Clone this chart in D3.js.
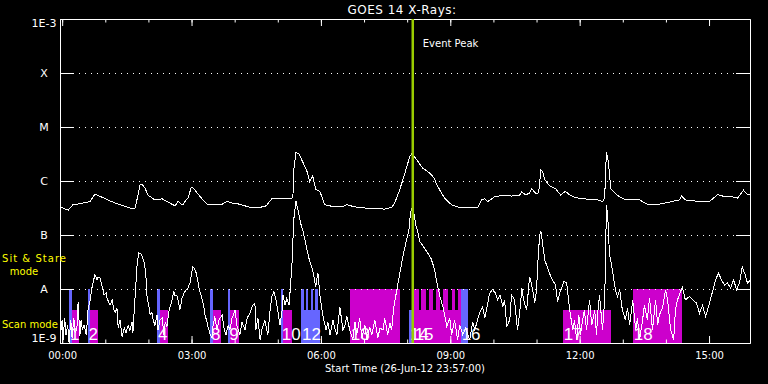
<!DOCTYPE html>
<html>
<head>
<meta charset="utf-8">
<script src="https://cdnjs.cloudflare.com/ajax/libs/d3/7.8.5/d3.min.js"></script>
<style>
    body { margin: 0; background: #000; }
    svg { display: block; }
    text { font-family: "DejaVu Sans", sans-serif; fill: #fff; }
</style>
</head>
<body>
<div id="chart"></div>
<script>
// hours after 00:00 (27-Jun-12), plot starts 23:57 the day before
const hourDomain = [-0.05, 15.95];
const majorHours = [0, 3, 6, 9, 12, 15];
const minorHours = d3.range(0, 16);
const decades = [-3, -4, -5, -6, -7, -8, -9];
const decadeLabels = ["1E-3", "X", "M", "C", "B", "A", "1E-9"];
const eventPeakHour = 8.13;

// log10 flux (W/m^2), long channel 1-8 A
const longChannel = [
    [-0.02,-6.49],[0.14,-6.54],[0.25,-6.44],[0.42,-6.42],[0.65,-6.38],[0.76,-6.24],[0.95,-6.31],[1.11,-6.37],
    [1.34,-6.44],[1.62,-6.51],[1.69,-6.50],[1.76,-6.26],[1.81,-6.06],[1.85,-6.06],[1.92,-6.13],[1.99,-6.26],
    [2.15,-6.35],[2.32,-6.33],[2.50,-6.41],[2.62,-6.46],[2.69,-6.37],[2.76,-6.43],[2.80,-6.44],[2.87,-6.35],
    [2.92,-6.31],[2.99,-6.13],[3.03,-6.12],[3.10,-6.19],[3.20,-6.29],[3.36,-6.43],[3.54,-6.44],[3.71,-6.43],
    [3.82,-6.38],[3.96,-6.41],[4.12,-6.43],[4.36,-6.49],[4.54,-6.50],[4.63,-6.48],[4.73,-6.46],[4.86,-6.33],
    [5.05,-6.33],[5.28,-6.33],[5.35,-6.31],[5.37,-5.80],[5.42,-5.47],[5.49,-5.50],[5.58,-5.65],[5.68,-5.83],
    [5.74,-6.01],[5.81,-5.91],[5.88,-6.15],[5.98,-6.20],[6.09,-6.44],[6.32,-6.48],[6.51,-6.47],[6.60,-6.44],
    [6.79,-6.48],[7.13,-6.51],[7.48,-6.52],[7.64,-6.49],[7.71,-6.41],[7.81,-6.20],[7.90,-5.98],[7.99,-5.74],
    [8.06,-5.55],[8.11,-5.49],[8.18,-5.56],[8.25,-5.64],[8.36,-5.76],[8.52,-5.85],[8.62,-5.94],[8.69,-6.07],
    [8.78,-6.20],[8.87,-6.32],[9.03,-6.44],[9.22,-6.49],[9.45,-6.50],[9.64,-6.49],[9.73,-6.35],[9.80,-6.33],
    [9.87,-6.38],[10.03,-6.29],[10.26,-6.26],[10.42,-6.28],[10.61,-6.26],[10.66,-6.20],[10.75,-6.26],[10.84,-6.22],
    [10.89,-6.14],[10.98,-6.23],[11.05,-6.22],[11.10,-5.80],[11.14,-5.83],[11.19,-5.97],[11.30,-6.09],[11.44,-6.14],
    [11.56,-6.26],[11.67,-6.19],[11.77,-6.26],[11.88,-6.30],[12.00,-6.32],[12.23,-6.34],[12.42,-6.35],[12.53,-6.38],
    [12.58,-6.31],[12.62,-5.46],[12.67,-5.67],[12.72,-6.14],[12.86,-6.26],[13.04,-6.34],[13.20,-6.34],[13.39,-6.35],
    [13.57,-6.43],[13.85,-6.43],[14.08,-6.39],[14.32,-6.35],[14.36,-6.28],[14.45,-6.35],[14.78,-6.38],[15.01,-6.38],
    [15.20,-6.25],[15.36,-6.29],[15.54,-6.29],[15.66,-6.32],[15.80,-6.17],[15.89,-6.25],[15.96,-6.24]
];

// log10 flux, short channel 0.5-4 A (floor at 1E-9)
const shortChannel = [
    [-0.02,-8.76],[0.00,-8.57],[0.02,-8.94],[0.06,-8.54],[0.09,-8.85],[0.13,-8.67],[0.16,-9.00],[0.20,-8.57],
    [0.23,-8.91],[0.27,-8.54],[0.30,-8.81],[0.34,-8.76],[0.37,-8.24],[0.41,-8.87],[0.44,-8.57],[0.47,-8.76],
    [0.51,-8.67],[0.56,-8.85],[0.60,-8.39],[0.65,-8.20],[0.69,-7.98],[0.74,-7.80],[0.76,-7.73],[0.81,-7.83],
    [0.83,-7.78],[0.88,-7.80],[0.93,-7.96],[0.97,-8.11],[1.02,-8.07],[1.04,-8.17],[1.09,-8.26],[1.11,-8.30],
    [1.16,-8.20],[1.20,-8.39],[1.23,-8.44],[1.27,-8.35],[1.30,-8.72],[1.34,-8.57],[1.39,-8.89],[1.44,-8.72],
    [1.48,-8.81],[1.53,-8.67],[1.57,-8.76],[1.62,-8.61],[1.64,-8.81],[1.69,-8.15],[1.74,-7.52],[1.78,-7.33],
    [1.83,-7.35],[1.85,-7.39],[1.90,-7.50],[1.92,-7.61],[1.95,-7.83],[1.97,-8.17],[2.02,-8.35],[2.04,-8.48],
    [2.08,-8.43],[2.11,-8.57],[2.15,-8.67],[2.20,-8.48],[2.22,-8.76],[2.27,-8.57],[2.32,-8.54],[2.36,-8.85],
    [2.39,-8.61],[2.43,-8.69],[2.48,-8.39],[2.55,-8.20],[2.59,-8.04],[2.62,-8.13],[2.66,-8.11],[2.71,-8.30],
    [2.73,-8.39],[2.78,-8.17],[2.83,-8.07],[2.87,-8.02],[2.92,-7.98],[2.97,-7.87],[2.99,-7.77],[3.03,-7.59],
    [3.06,-7.61],[3.10,-7.68],[3.15,-7.87],[3.17,-7.98],[3.22,-8.11],[3.24,-8.17],[3.29,-8.35],[3.31,-8.48],
    [3.36,-8.61],[3.38,-8.70],[3.43,-8.83],[3.47,-8.91],[3.50,-8.67],[3.54,-8.51],[3.59,-8.76],[3.64,-8.57],
    [3.71,-8.48],[3.75,-8.72],[3.80,-8.85],[3.85,-8.67],[3.89,-8.76],[3.94,-8.54],[4.01,-8.39],[4.05,-8.67],
    [4.12,-8.85],[4.17,-8.61],[4.24,-8.76],[4.29,-8.54],[4.36,-8.44],[4.42,-8.30],[4.47,-8.26],[4.49,-8.76],
    [4.54,-8.54],[4.59,-8.94],[4.63,-8.76],[4.70,-8.57],[4.77,-8.85],[4.82,-8.41],[4.86,-8.14],[4.91,-8.05],
    [4.96,-8.20],[5.00,-8.39],[5.05,-8.67],[5.10,-8.39],[5.12,-8.11],[5.17,-8.30],[5.21,-8.17],[5.26,-8.30],
    [5.28,-8.11],[5.33,-7.52],[5.37,-6.72],[5.42,-6.37],[5.47,-6.54],[5.54,-6.81],[5.58,-6.91],[5.63,-7.09],
    [5.68,-7.28],[5.74,-7.49],[5.81,-7.65],[5.88,-7.96],[5.93,-7.70],[5.98,-8.14],[6.05,-8.51],[6.12,-8.76],
    [6.16,-8.61],[6.21,-8.85],[6.28,-8.57],[6.32,-8.72],[6.37,-8.85],[6.44,-8.33],[6.51,-8.76],[6.56,-8.67],
    [6.60,-8.51],[6.67,-8.76],[6.74,-8.94],[6.79,-8.61],[6.83,-8.85],[6.90,-8.54],[6.95,-8.91],[7.02,-8.67],
    [7.07,-8.94],[7.13,-8.70],[7.18,-8.85],[7.25,-8.57],[7.32,-8.91],[7.37,-8.72],[7.44,-8.76],[7.48,-8.54],
    [7.55,-8.85],[7.60,-8.63],[7.64,-8.76],[7.69,-8.33],[7.76,-8.02],[7.83,-7.71],[7.90,-7.40],[7.97,-7.15],
    [8.04,-6.91],[8.08,-6.57],[8.11,-6.50],[8.15,-6.57],[8.20,-6.81],[8.25,-6.96],[8.29,-7.12],[8.36,-7.19],
    [8.43,-7.28],[8.48,-7.34],[8.55,-7.43],[8.59,-7.52],[8.64,-7.65],[8.69,-7.89],[8.76,-8.14],[8.83,-8.33],
    [8.87,-8.48],[8.92,-8.70],[8.99,-8.54],[9.03,-8.85],[9.10,-8.57],[9.17,-8.94],[9.22,-8.67],[9.29,-8.85],
    [9.36,-8.72],[9.45,-8.94],[9.52,-8.61],[9.57,-8.76],[9.64,-8.54],[9.68,-8.44],[9.75,-8.33],[9.80,-8.54],
    [9.84,-8.39],[9.91,-8.08],[9.98,-8.01],[10.05,-8.08],[10.10,-8.20],[10.15,-8.11],[10.22,-8.33],[10.26,-8.20],
    [10.31,-8.70],[10.38,-8.57],[10.42,-8.11],[10.49,-8.20],[10.56,-8.76],[10.61,-8.44],[10.66,-7.99],[10.70,-8.20],
    [10.77,-8.39],[10.84,-7.77],[10.89,-7.93],[10.96,-8.26],[11.00,-8.02],[11.03,-7.52],[11.07,-7.02],[11.10,-6.93],
    [11.14,-7.15],[11.19,-7.46],[11.26,-7.62],[11.33,-7.77],[11.37,-7.83],[11.44,-7.93],[11.49,-8.24],[11.54,-8.06],
    [11.58,-7.99],[11.63,-7.86],[11.70,-7.89],[11.77,-8.39],[11.84,-8.76],[11.88,-8.57],[11.93,-8.94],[11.98,-8.48],
    [12.02,-8.85],[12.07,-8.57],[12.11,-8.39],[12.16,-8.76],[12.23,-8.20],[12.28,-8.67],[12.35,-8.39],[12.39,-8.85],
    [12.42,-8.44],[12.46,-8.11],[12.51,-8.57],[12.53,-8.76],[12.58,-8.20],[12.60,-7.46],[12.62,-6.44],[12.65,-6.63],
    [12.69,-7.34],[12.76,-7.65],[12.83,-8.02],[12.88,-8.14],[12.93,-8.02],[12.99,-8.39],[13.06,-8.57],[13.11,-8.35],
    [13.16,-8.67],[13.23,-8.20],[13.30,-8.76],[13.34,-8.54],[13.39,-8.94],[13.46,-8.57],[13.50,-8.30],[13.57,-8.57],
    [13.62,-8.16],[13.69,-8.76],[13.76,-8.20],[13.81,-8.67],[13.85,-8.48],[13.92,-8.35],[13.99,-8.02],[14.04,-8.20],
    [14.11,-8.76],[14.18,-8.94],[14.22,-8.39],[14.27,-8.20],[14.34,-8.05],[14.38,-7.96],[14.45,-8.20],[14.55,-8.14],
    [14.62,-8.20],[14.71,-8.26],[14.78,-8.45],[14.85,-8.30],[14.92,-8.51],[15.01,-8.27],[15.08,-8.05],[15.15,-7.83],
    [15.22,-7.71],[15.29,-7.83],[15.36,-7.93],[15.43,-7.89],[15.50,-7.98],[15.57,-7.83],[15.64,-8.02],[15.71,-7.87],
    [15.77,-7.59],[15.84,-7.74],[15.89,-7.89],[15.96,-7.83]
];

// observing mode intervals [start hour, end hour]
const blueScan = [[5.54, 5.98], [8.04, 8.14]];
const blueStare = [[0.16, 0.23], [0.59, 0.65], [2.20, 2.27], [3.43, 3.49], [3.85, 3.90], [5.07, 5.13],
    [5.54, 5.61], [5.65, 5.71], [5.76, 5.81], [5.86, 5.93], [9.24, 9.41]];
const magentaScan = [[0.23, 0.39], [0.65, 0.82], [2.27, 2.45], [3.49, 3.68], [3.90, 4.10], [5.13, 5.33],
    [8.15, 9.24], [11.61, 12.73]];
const magentaStare = [[6.67, 7.83], [8.15, 8.27], [8.33, 8.43], [8.51, 8.60], [8.68, 8.77], [8.83, 8.95],
    [9.03, 9.10], [9.18, 9.24], [13.23, 14.38]];
const scanLabels = [[0.16, "1"], [0.59, "2"], [2.20, "4"], [3.43, "8"], [3.85, "9"], [5.07, "10"], [5.54, "12"],
    [6.67, "13"], [8.04, "14"], [8.15, "15"], [9.24, "16"], [11.61, "17"], [13.23, "18"]];

// mode level of the bar tops (log10 flux)
const modeLevel = {stare: -8, scan: -8.39};

let width = 768, height = 384;
let margin = {top: 19, right: 18, bottom: 41, left: 60};

let svg = d3.select("#chart").append("svg")
    .attr("width", width)
    .attr("height", height);

svg.append("rect").attr("width", width).attr("height", height).attr("fill", "#000");

let x = d3.scaleLinear().domain(hourDomain).range([margin.left, width - margin.right]);
let y = d3.scaleLinear().domain([-9, -3]).range([height - margin.bottom, margin.top]);

// mode bars
function drawBars(list, color, level) {
    svg.append("g").selectAll("rect")
        .data(list)
        .join("rect")
        .attr("x", d => x(d[0]))
        .attr("width", d => x(d[1]) - x(d[0]))
        .attr("y", y(level))
        .attr("height", y(-9) - y(level))
        .attr("fill", color)
        .attr("shape-rendering", "crispEdges");
}
drawBars(magentaScan, "#cc00cc", modeLevel.scan);
drawBars(blueScan, "#6666ff", modeLevel.scan);
drawBars(magentaStare, "#cc00cc", modeLevel.stare);
drawBars(blueStare, "#6666ff", modeLevel.stare);

// dotted grid at each class level
svg.append("g").selectAll("line")
    .data(decades.slice(1, -1))
    .join("line")
    .attr("x1", margin.left + 1)
    .attr("x2", width - margin.right)
    .attr("y1", d => Math.round(y(d)) + 0.5)
    .attr("y2", d => Math.round(y(d)) + 0.5)
    .attr("stroke", "#fff")
    .attr("stroke-dasharray", "1,5");

// curves
svg.append("clipPath").attr("id", "plotclip").append("rect")
    .attr("x", margin.left).attr("y", margin.top)
    .attr("width", width - margin.left - margin.right)
    .attr("height", height - margin.top - margin.bottom + 1);

let line = d3.line().x(d => x(d[0])).y(d => y(d[1]));
[longChannel, shortChannel].forEach(series => {
    svg.append("path")
        .datum(series)
        .attr("clip-path", "url(#plotclip)")
        .attr("d", line)
        .attr("fill", "none")
        .attr("stroke", "#fff")
        .attr("stroke-width", 1)
        .attr("shape-rendering", "crispEdges");
});

// scan numbers
svg.append("g").selectAll("text")
    .data(scanLabels)
    .join("text")
    .attr("x", d => x(d[0]) + 1)
    .attr("y", 340)
    .style("font-family", "'Liberation Sans', sans-serif")
    .style("font-size", "17px")
    .text(d => d[1]);

// axes
let leftAxis = d3.axisLeft(y).tickValues(decades).tickSize(-14).tickSizeOuter(0)
    .tickFormat((d, i) => decadeLabels[i]);
let gl = svg.append("g").attr("transform", `translate(${margin.left},0)`).attr("color", "#fff").call(leftAxis);
gl.selectAll("text")
    .attr("x", -16)
    .attr("text-anchor", "middle")
    .attr("fill", "#fff")
    .style("font-size", "11px")
    .attr("dy", d => d === -3 ? "0.72em" : (d === -9 ? "-0.1em" : "0.36em"));

svg.append("g").attr("transform", `translate(${width - margin.right},0)`).attr("color", "#fff")
    .call(d3.axisRight(y).tickValues(decades).tickSize(-14).tickSizeOuter(0).tickFormat(""));

svg.append("g").attr("transform", `translate(0,${margin.top})`).attr("color", "#fff")
    .call(d3.axisTop(x).tickValues(minorHours).tickSize(-3.5).tickSizeOuter(0).tickFormat(""));
svg.append("g").attr("transform", `translate(0,${margin.top})`).attr("color", "#fff")
    .call(d3.axisTop(x).tickValues(majorHours).tickSize(-7).tickSizeOuter(0).tickFormat(""));

svg.append("g").attr("transform", `translate(0,${height - margin.bottom})`).attr("color", "#fff")
    .call(d3.axisBottom(x).tickValues(minorHours).tickSize(-3.5).tickSizeOuter(0).tickFormat(""));
let gb = svg.append("g").attr("transform", `translate(0,${height - margin.bottom})`).attr("color", "#fff")
    .call(d3.axisBottom(x).tickValues(majorHours).tickSize(-7).tickSizeOuter(0).tickPadding(9)
        .tickFormat(d => d3.format("02d")(d) + ":00"));
gb.selectAll("text").style("font-size", "10px");

// event peak marker
svg.append("line")
    .attr("x1", x(eventPeakHour)).attr("x2", x(eventPeakHour))
    .attr("y1", margin.top).attr("y2", height - margin.bottom)
    .attr("stroke", "#99cc00")
    .attr("stroke-width", 2.5);

svg.append("text")
    .attr("x", x(eventPeakHour) + 10)
    .attr("y", 46.5)
    .style("font-size", "10px")
    .text("Event Peak");

// titles
svg.append("text")
    .attr("x", 402).attr("y", 13.5)
    .attr("text-anchor", "middle")
    .style("font-size", "12px")
    .style("letter-spacing", "0.5px")
    .text("GOES 14 X-Rays:");

svg.append("text")
    .attr("x", 405).attr("y", 371.5)
    .attr("text-anchor", "middle")
    .style("font-size", "10px")
    .text("Start Time (26-Jun-12 23:57:00)");

// mode legend
let legend = svg.append("g").style("font-size", "10px");
legend.append("text").attr("x", 2).attr("y", 262).attr("textLength", 64).style("fill", "#ffff00").text("Sit & Stare");
legend.append("text").attr("x", 24).attr("y", 274.5).attr("text-anchor", "middle").style("fill", "#ffff00").text("mode");
legend.append("text").attr("x", 2).attr("y", 327.5).style("fill", "#ffff00").text("Scan mode");
</script>
</body>
</html>
